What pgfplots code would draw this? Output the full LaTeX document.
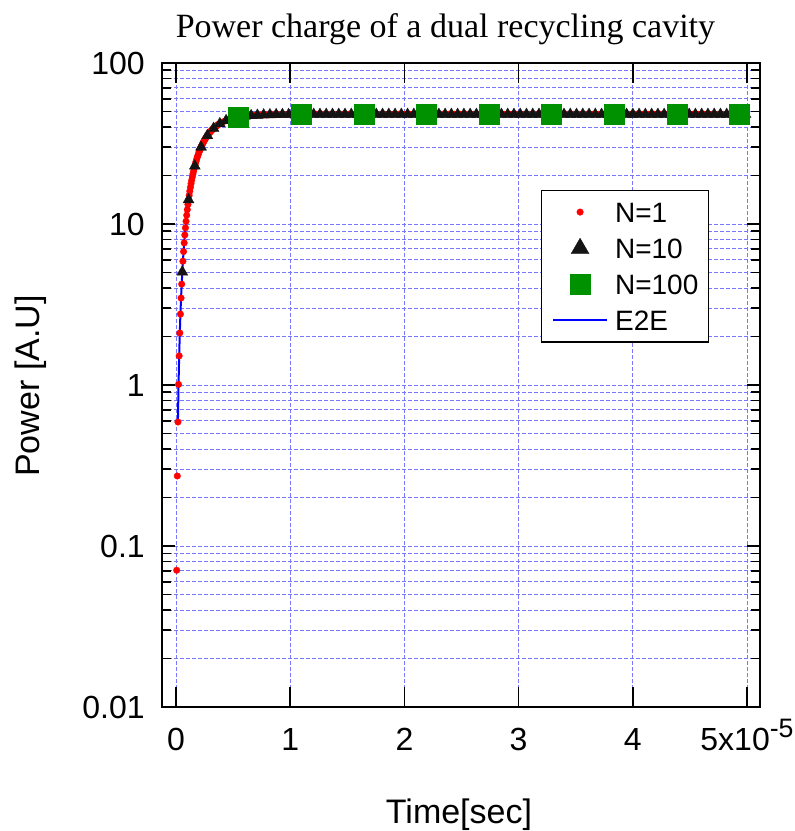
\documentclass[border=0pt]{standalone}
\usepackage{fontspec}
\setmainfont{Liberation Sans}
\newfontfamily\timesfont{Liberation Serif}
\usepackage{pgfplots}
\usepackage{pgfplotstable}
\pgfplotsset{compat=1.18}
\definecolor{gridblue}{RGB}{120,120,255}
\definecolor{sqgreen}{RGB}{0,145,0}
\definecolor{trib}{RGB}{20,20,20}
\pgfplotsset{
  markleg/.style={legend image code/.code={\draw[##1, mark repeat=2, mark phase=2] plot coordinates {(0pt,0pt) (20.5pt,0pt) (41pt,0pt)}; \path (46pt,0pt);}},
  lineleg/.style={legend image code/.code={\draw[##1] (0pt,0pt) -- (41pt,0pt); \path (46pt,0pt);}},
}
% N=1 (time in units of 1e-5 s, power in A.U.)
\pgfplotstableread{
x y
0.00548 0.0707
0.01096 0.2722
0.01644 0.5892
0.02192 1.0083
0.0274 1.5166
0.03288 2.1031
0.03836 2.7572
0.04384 3.4696
0.04932 4.2318
0.0548 5.0361
0.06028 5.8755
0.06576 6.7436
0.07124 7.6347
0.07672 8.5439
0.0822 9.4663
0.08768 10.398
0.09316 11.335
0.09864 12.274
0.10412 13.213
0.1096 14.148
0.11508 15.077
0.12056 15.999
0.12604 16.910
0.13152 17.811
0.137 18.699
0.14248 19.574
0.14796 20.434
0.15344 21.278
0.15892 22.106
0.1644 22.917
0.16988 23.710
0.17536 24.486
0.18084 25.244
0.18632 25.984
0.1918 26.705
0.19728 27.408
0.20276 28.093
0.20824 28.759
0.21372 29.407
0.2192 30.038
0.22468 30.650
0.23016 31.244
0.23564 31.821
0.24112 32.381
0.2466 32.924
0.25208 33.451
0.25756 33.961
0.26304 34.455
0.26852 34.934
0.274 35.397
0.27948 35.845
0.28496 36.279
0.29044 36.699
0.29592 37.105
0.3014 37.497
0.30688 37.876
0.31236 38.243
0.31784 38.597
0.32332 38.939
0.3288 39.269
0.33428 39.588
0.33976 39.896
0.34524 40.194
0.35072 40.481
0.3562 40.757
0.36168 41.024
0.36716 41.282
0.37264 41.531
0.37812 41.770
0.3836 42.001
0.411 43.039
0.4384 43.901
0.4658 44.616
0.4932 45.208
0.5206 45.699
0.548 46.104
0.5754 46.438
0.6028 46.714
0.6302 46.941
0.6576 47.128
0.685 47.283
0.7124 47.410
0.7398 47.514
0.7672 47.601
0.7946 47.671
0.822 47.730
0.8494 47.778
0.8768 47.817
0.9042 47.850
0.9316 47.876
0.959 47.900
0.9864 47.916
1.0138 47.930
1.0412 47.943
1.0686 47.952
1.096 47.962
1.1234 47.970
1.1782 47.980
1.233 47.985
1.2878 47.990
1.3426 47.993
1.3974 48
1.4522 48
1.507 48
1.5618 48
1.6166 48
1.6714 48
1.7262 48
1.781 48
1.8358 48
1.8906 48
1.9454 48
2.0002 48
2.055 48
2.1098 48
2.1646 48
2.2194 48
2.2742 48
2.329 48
2.3838 48
2.4386 48
2.4934 48
2.5482 48
2.603 48
2.6578 48
2.7126 48
2.7674 48
2.8222 48
2.877 48
2.9318 48
2.9866 48
3.0414 48
3.0962 48
3.151 48
3.2058 48
3.2606 48
3.3154 48
3.3702 48
3.425 48
3.4798 48
3.5346 48
3.5894 48
3.6442 48
3.699 48
3.7538 48
3.8086 48
3.8634 48
3.9182 48
3.973 48
4.0278 48
4.0826 48
4.1374 48
4.1922 48
4.247 48
4.3018 48
4.3566 48
4.4114 48
4.4662 48
4.521 48
4.5758 48
4.6306 48
4.6854 48
4.7402 48
4.795 48
4.8498 48
4.9046 48
4.9594 48
4.9868 48
}\nonetab
% N=10
\pgfplotstableread{
x y
0.0548 5.036
0.1096 14.148
0.1644 22.917
0.2192 30.038
0.274 35.397
0.3288 39.269
0.3836 42.001
0.4384 43.901
0.4932 45.208
0.548 46.104
0.6028 46.714
0.6576 47.128
0.7124 47.410
0.7672 47.601
0.822 47.730
0.8768 47.817
0.9316 47.876
0.9864 47.916
1.0412 47.943
1.096 47.962
1.1508 47.974
1.2056 47.982
1.2604 47.988
1.3152 47.992
1.37 47.995
1.4248 48
1.4796 48
1.5344 48
1.5892 48
1.644 48
1.6988 48
1.7536 48
1.8084 48
1.8632 48
1.918 48
1.9728 48
2.0276 48
2.0824 48
2.1372 48
2.192 48
2.2468 48
2.3016 48
2.3564 48
2.4112 48
2.466 48
2.5208 48
2.5756 48
2.6304 48
2.6852 48
2.74 48
2.7948 48
2.8496 48
2.9044 48
2.9592 48
3.014 48
3.0688 48
3.1236 48
3.1784 48
3.2332 48
3.288 48
3.3428 48
3.3976 48
3.4524 48
3.5072 48
3.562 48
3.6168 48
3.6716 48
3.7264 48
3.7812 48
3.836 48
3.8908 48
3.9456 48
4.0004 48
4.0552 48
4.11 48
4.1648 48
4.2196 48
4.2744 48
4.3292 48
4.384 48
4.4388 48
4.4936 48
4.5484 48
4.6032 48
4.658 48
4.7128 48
4.7676 48
4.8224 48
4.8772 48
4.932 48
4.9868 48
}\ntentab
% N=100
\pgfplotstableread{
x y
0.548 46.104
1.096 47.962
1.644 48
2.192 48
2.74 48
3.288 48
3.836 48
4.384 48
4.932 48
}\nhundtab
\begin{document}
\begin{tikzpicture}
\useasboundingbox (-121.5pt,-93pt) rectangle (474.75pt,530.25pt);
\begin{axis}[
  at={(0pt,0pt)}, anchor=south west,
  scale only axis, width=448.5pt, height=483pt,
  xmin=-0.123, xmax=5.114,
  ymode=log, ymin=0.01, ymax=100,
  xtick={0,1,2,3,4,5},
  xticklabels={0,1,2,3,4,{5x10\raisebox{9.75pt}{\fontsize{20}{20}\selectfont -5}}},
  ytick={0.01,0.1,1,10,100},
  yticklabels={0.01,0.1,1,10,100},
  tick pos=both, tick align=inside,
  major tick length=9.75pt, minor tick length=6.75pt,
  xtick style={/pgfplots/major tick length=15pt},
  tick style={black, line width=1.3pt},
  axis line style={line width=1.6pt},
  xmajorgrids=true, ymajorgrids=true, yminorgrids=true,
  major grid style={gridblue, line width=0.7pt, dash pattern=on 3pt off 1.5pt},
  minor grid style={gridblue, line width=0.7pt, dash pattern=on 3pt off 1.5pt},
  ticklabel style={font=\fontsize{24}{28}\selectfont},
  xticklabel style={anchor=base, inner sep=0pt, yshift=-32.25pt},
  yticklabel style={anchor=east, inner sep=0pt, xshift=-12.75pt},
  legend style={
    at={(axis description cs:0.6338,0.8028)}, anchor=north west,
    draw=black, line width=1.1pt, fill=white,
    inner xsep=7.5pt, inner ysep=8.5pt,
    font=\fontsize{21}{25}\selectfont,
    row sep=12pt,
    nodes={inner sep=0pt, text height=15pt, text depth=0pt},
  },
  legend cell align=left,
]
\addplot[forget plot, blue, line width=1.5pt, no marks] table[x=x, y=y, skip coords between index={0}{2}] {\nonetab};
\addplot[only marks, mark=*, mark size=2.5pt, mark options={fill=red, draw=red, line width=0.2pt}, markleg] table[x=x,y=y] {\nonetab};
\addlegendentry{N=1}
\addplot[only marks, mark=triangle*, mark size=4.8pt, mark options={fill=trib, draw=trib, line width=0.2pt}, markleg, legend image post style={mark size=7.8pt}] table[x=x,y=y] {\ntentab};
\addlegendentry{N=10}
\addplot[only marks, mark=square*, mark size=7.5pt, mark options={fill=sqgreen, draw=sqgreen, line width=0.2pt}, markleg] table[x=x,y=y] {\nhundtab};
\addlegendentry{N=100}
\addlegendimage{blue, line width=1.5pt, lineleg}
\addlegendentry{E2E}
\end{axis}
\node[anchor=base, font=\timesfont\fontsize{25.5}{30}\selectfont] at (212.6pt,502pt) {Power charge of a dual recycling cavity};
\node[rotate=90, anchor=base, font=\fontsize{25.5}{30}\selectfont] at (-91.5pt,240.75pt) {Power [A.U]};
\node[anchor=base, font=\fontsize{25.5}{30}\selectfont] at (222.75pt,-87pt) {Time[sec]};
\end{tikzpicture}
\end{document}
